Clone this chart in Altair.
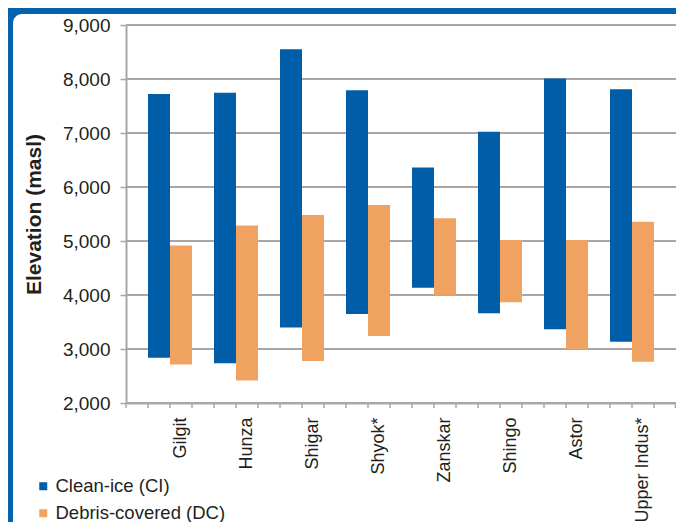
import altair as alt
import pandas as pd

categories = ["Gilgit", "Hunza", "Shigar", "Shyok*", "Zanskar", "Shingo", "Astor", "Upper Indus*"]
ci_low = [2840, 2735, 3400, 3650, 4135, 3660, 3365, 3135]
ci_high = [7720, 7745, 8550, 7790, 6360, 7025, 8010, 7810]
dc_low = [2715, 2415, 2780, 3240, 3990, 3865, 2995, 2765]
dc_high = [4915, 5285, 5480, 5665, 5420, 5020, 5020, 5355]
series_names = ["Clean-ice (CI)", "Debris-covered (DC)"]
y_ticks = [2000, 3000, 4000, 5000, 6000, 7000, 8000, 9000]

BLUE = "#005EA8"
ORANGE = "#F0A360"
FRAME = "#0563AE"
GRID = "#ABA6A4"
TEXT = "#231F20"
FONT = "Liberation Sans"

slots = []
for i, c in enumerate(categories):
    slots += ["gap%d" % i, c + "|CI", c + "|DC"]
slots.append("gapend")

rows = []
for i, c in enumerate(categories):
    rows.append({"slot": c + "|CI", "low": ci_low[i], "high": ci_high[i], "series": series_names[0]})
    rows.append({"slot": c + "|DC", "low": dc_low[i], "high": dc_high[i], "series": series_names[1]})
df = pd.DataFrame(rows)

xscale = alt.Scale(domain=slots, paddingInner=0, paddingOuter=0)
yscale = alt.Scale(domain=[2000, 9000], nice=False, zero=False)

x_axis = alt.Axis(
    title=None, labelAngle=-90, labelAlign="right", labelBaseline="middle",
    labelExpr="indexof(datum.value, '|DC') >= 0 ? replace(datum.value, '|DC', '') : ''",
    ticks=False, zindex=1,
    domainColor=GRID, domainWidth=2, labelPadding=14,
    labelFontSize=18, labelFont=FONT, labelColor=TEXT,
    labelOverlap=False, grid=False)

y_axis = alt.Axis(
    values=y_ticks, format=",.0f", title="Elevation (masl)",
    grid=False, zindex=1,
    domainColor=GRID, domainWidth=2,
    tickSize=6, tickColor=GRID, tickWidth=1.5,
    labelFontSize=19, labelFont=FONT, labelColor=TEXT, labelPadding=10,
    titleFontSize=21, titleFont=FONT, titleFontWeight="bold", titleColor=TEXT,
    titlePadding=18)

card = alt.Chart(pd.DataFrame({"a": [0]})).mark_rect(
    fill="white", cornerRadius=9
).encode(
    x=alt.value(-113), x2=alt.value(570),
    y=alt.value(-11), y2=alt.value(520)
)

grid = alt.Chart(pd.DataFrame({"low": y_ticks})).mark_rule(
    color=GRID, strokeWidth=2
).encode(
    y=alt.Y("low:Q", scale=yscale, axis=y_axis),
    x=alt.value(0), x2=alt.value(550)
)

ticks = alt.Chart(pd.DataFrame({"slot": slots})).mark_rule(
    color=GRID, strokeWidth=1.5
).encode(
    x=alt.X("slot:N", sort=slots, scale=xscale, axis=x_axis, bandPosition=0),
    y=alt.value(378), y2=alt.value(383)
)
end_tick = alt.Chart(pd.DataFrame({"a": [0]})).mark_rule(
    color=GRID, strokeWidth=1.5
).encode(x=alt.value(549.5), y=alt.value(378), y2=alt.value(383))

bars = alt.Chart(df).mark_bar().encode(
    x=alt.X("slot:N", sort=slots, scale=xscale, axis=x_axis),
    y=alt.Y("low:Q", scale=yscale, axis=y_axis),
    y2="high:Q",
    color=alt.Color("series:N",
                    scale=alt.Scale(domain=series_names, range=[BLUE, ORANGE]),
                    legend=alt.Legend(
                        title=None, orient="none", legendX=-92, legendY=452,
                        direction="vertical", symbolType="square", symbolSize=64,
                        labelFontSize=18.5, labelFont=FONT, labelLimit=400,
                        labelColor=TEXT, labelOffset=3, rowPadding=8))
)

chart = alt.layer(card, grid, ticks, end_tick, bars).properties(
    width=550, height=378,
    autosize=alt.AutoSizeParams(type="none"),
    padding={"left": 118, "top": 17, "right": 0, "bottom": 119},
    background=FRAME
).configure_view(strokeWidth=0)

chart.save("out.html", embed_options={"renderer": "svg", "actions": False})
